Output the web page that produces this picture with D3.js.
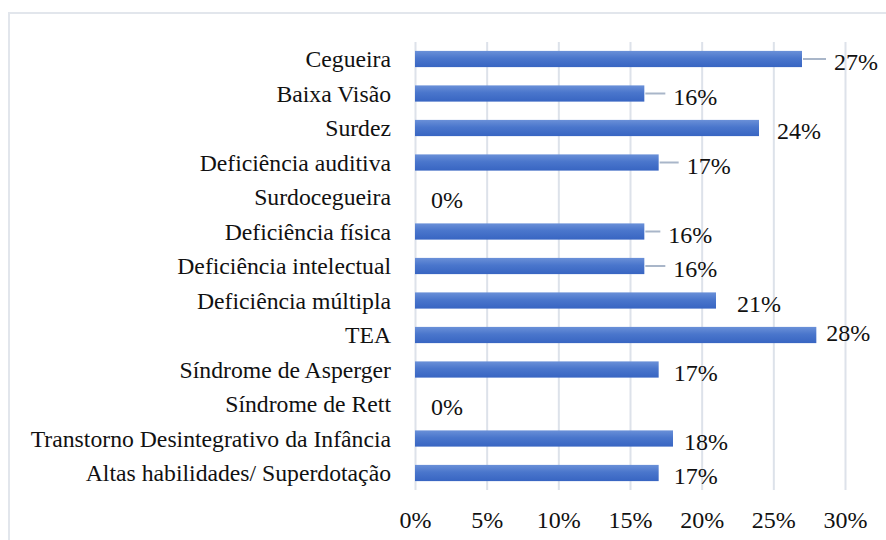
<!DOCTYPE html>
<html>
<head>
<meta charset="utf-8">
<script src="https://cdn.jsdelivr.net/npm/d3@7"></script>
</head>
<body style="margin:0; background:#fff">
<svg width="886" height="540"></svg>
<script>
var categories = ["Cegueira", "Baixa Visão", "Surdez", "Deficiência auditiva", "Surdocegueira",
    "Deficiência física", "Deficiência intelectual", "Deficiência múltipla", "TEA",
    "Síndrome de Asperger", "Síndrome de Rett", "Transtorno Desintegrativo da Infância",
    "Altas habilidades/ Superdotação"];
var values = [0.27, 0.16, 0.24, 0.17, 0, 0.16, 0.16, 0.21, 0.28, 0.17, 0, 0.18, 0.17];
var tickValues = [0, 0.05, 0.10, 0.15, 0.20, 0.25, 0.30];

// where the data labels were dragged to (px right of the bar end, px down)
var labelDx = [32, 29, 18, 28, 16, 24, 29, 21, 10, 15, 16, 11, 15];
var labelDy = [3, 3, 3, 3, 3, 3, 3, 3, -2, 3, 3, 3, 3];

var svg = d3.select("svg");
var fontSize = 24;
var catFontSize = 23.7;
var serif = "'Liberation Serif'";

var xscale = d3.scaleLinear().domain([0, 0.30]).range([415, 845]);
var yscale = d3.scaleBand().domain(categories).range([41.75, 490.25])
    .paddingInner(0.53).paddingOuter(0.265);

// chart area border (only top and left fall inside the picture)
svg.append("rect")
    .attr("x", 9).attr("y", 13).attr("width", 900).attr("height", 560)
    .attr("fill", "none").attr("stroke", "#e2e6ec").attr("stroke-width", 2);

var defs = svg.append("defs");
var grad = defs.append("linearGradient").attr("id", "barfill")
    .attr("x1", 0).attr("y1", 0).attr("x2", 0).attr("y2", 1);
grad.append("stop").attr("offset", "0%").attr("stop-color", "#6a90d8");
grad.append("stop").attr("offset", "45%").attr("stop-color", "#4a76cc");
grad.append("stop").attr("offset", "100%").attr("stop-color", "#3865c2");

// x axis with gridlines
var xAxis = d3.axisBottom(xscale).tickValues(tickValues)
    .tickFormat(d3.format(".0%"))
    .tickSize(-(490 - 42)).tickPadding(21);
var gx = svg.append("g").attr("transform", "translate(0,490)").call(xAxis);
gx.select(".domain").remove();
gx.selectAll(".tick line").attr("stroke", "#dde2ea").attr("stroke-width", 2);
gx.selectAll(".tick text").attr("font-size", fontSize).attr("fill", "#111")
    .style("font-family", serif);

// category labels
var yAxis = d3.axisLeft(yscale).tickSize(0).tickPadding(24);
var gy = svg.append("g").attr("transform", "translate(415,0)").call(yAxis);
gy.select(".domain").remove();
gy.selectAll(".tick text").attr("font-size", catFontSize).attr("fill", "#111")
    .attr("dy", "0.34em")
    .style("font-family", serif);

// bars
svg.append("g").selectAll("rect").data(categories).enter().append("rect")
    .attr("x", xscale(0))
    .attr("y", function (d) { return yscale(d); })
    .attr("width", function (d, i) { return xscale(values[i]) - xscale(0); })
    .attr("height", yscale.bandwidth())
    .attr("fill", "url(#barfill)");

// leader lines for labels that were pulled away from the bar
svg.append("g").selectAll("line").data(categories.filter(function (d, i) { return labelDx[i] >= 24; }))
    .enter().append("line")
    .attr("x1", function (d) { return xscale(values[categories.indexOf(d)]) + 1; })
    .attr("x2", function (d) { var i = categories.indexOf(d); return xscale(values[i]) + labelDx[i] - 8; })
    .attr("y1", function (d) { return yscale(d) + yscale.bandwidth() / 2; })
    .attr("y2", function (d) { return yscale(d) + yscale.bandwidth() / 2; })
    .attr("stroke", "#a9b6c9").attr("stroke-width", 2);

// data labels
svg.append("g").selectAll("text").data(categories).enter().append("text")
    .attr("x", function (d, i) { return xscale(values[i]) + labelDx[i]; })
    .attr("y", function (d, i) { return yscale(d) + yscale.bandwidth() / 2 + labelDy[i]; })
    .attr("dy", "0.34em")
    .attr("font-size", fontSize)
    .attr("fill", "#111")
    .style("font-family", serif)
    .text(function (d, i) { return d3.format(".0%")(values[i]); });
</script>
</body>
</html>
